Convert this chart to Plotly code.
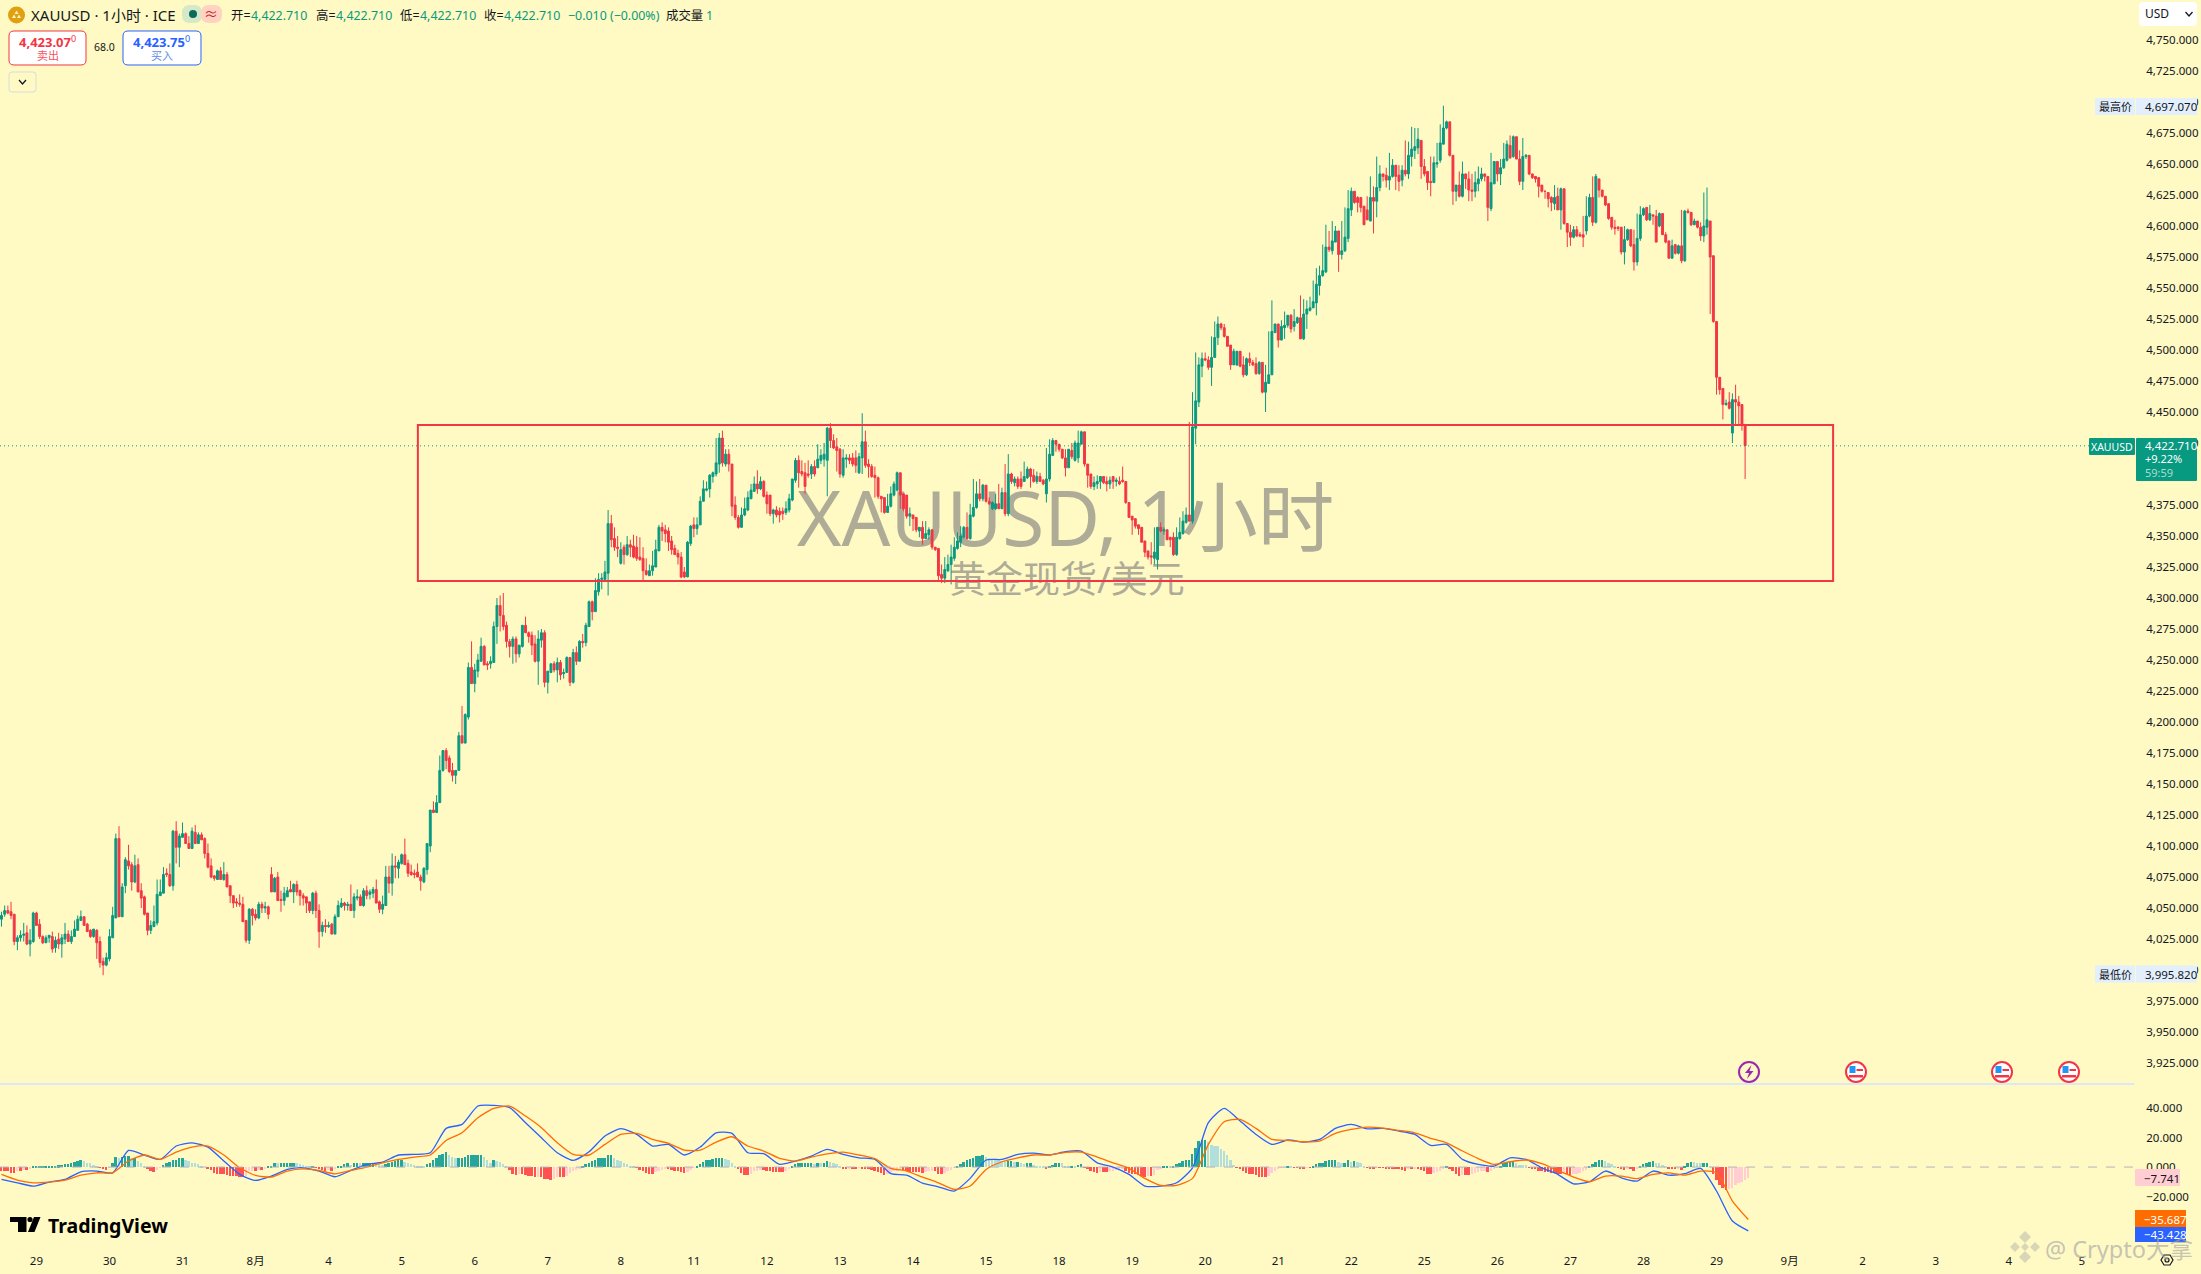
import plotly.graph_objects as go

W, H = 2201, 1274
FONT = "Noto Sans, Noto Sans CJK SC, sans-serif"
BG = "#FFF9C4"
UP = "#089981"
DOWN = "#F23645"
INK = "#131722"

# XAUUSD hourly candles
opens = [
4041,4045,4048,4047,4045,4023,4026,4028,4030,4021,4023,4046,4037,4027,4022,4026,4027,4018,4025,4021,4025,4029,4023,4027,4032,4040,4043,4037,4032,4027,4032,4023,4007,4004,4009,4026,4042,4106,4043,4068,
4088,4085,4071,4085,4064,4059,4046,4032,4035,4038,4060,4062,4078,4077,4068,4112,4099,4107,4110,4102,4098,4111,4102,4109,4106,4094,4084,4076,4073,4080,4073,4077,4068,4060,4055,4054,4053,4040,4024,4049,
4045,4042,4053,4050,4051,4077,4063,4075,4057,4056,4059,4065,4063,4069,4064,4060,4059,4055,4048,4062,4048,4031,4036,4035,4037,4029,4043,4051,4054,4052,4053,4048,4058,4059,4052,4064,4061,4062,4065,4055,
4049,4052,4075,4070,4084,4082,4086,4093,4086,4079,4078,4079,4075,4071,4081,4100,
4129,4127,4135,4161,4177,4171,4161,4157,4161,4189,4183,4204,4244,4231,4241,4249,4261,4247,4247,4248,4277,4294,4286,4278,4265,4261,4267,4255,4261,4278,4272,4270,4263,4249,4266,4272,4232,4240,4247,4242,
4248,4239,4240,4252,4232,4256,4249,4265,4264,4277,4297,4289,4305,4315,4315,
4320,4360,4348,4341,4328,4341,4335,4343,4342,4341,4333,4332,4322,4318,4322,4325,4338,4357,4355,4354,4346,4340,4336,4333,4321,4317,4344,4359,4356,4359,4378,4387,4388,4398,4400,4408,4429,4408,4416,4408,
4375,4365,4357,4367,4371,4380,4386,4392,4388,4394,4383,4383,4368,4371,4370,4370,4369,4371,4379,4395,4411,4402,4401,4400,4400,4406,4405,4411,4412,4411,4437,4427,4422,4420,4399,4412,4413,4413,4413,4401,
4413,4426,4408,4406,4399,4397,4382,4381,4369,4374,4383,4387,4401,4384,4383,4366,4367,4365,4354,4357,4348,4351,4355,4341,4340,4319,4316,4322,4327,4332,4340,4345,4349,4357,4348,4366,4373,4384,4380,4391,
4378,4372,4372,4376,4372,4385,4368,4400,4393,4396,4396,4394,4397,4404,4399,4394,4398,4395,4384,4396,4415,4427,4424,4420,4413,4405,4419,4411,4413,4424,4434,4408,4400,4390,4392,4394,4398,4394,4392,4398,
4394,4394,4395,4394,4377,4366,4364,4359,4357,4346,4338,4334,4332,4331,4357,4354,4355,4349,4349,4335,4348,4352,4361,4367,
4362,4437,4458,4487,4493,4492,4486,4494,4510,4521,4518,4511,4504,4488,4488,4499,4488,4480,4493,4490,4489,4481,4490,4466,4473,4480,4514,4521,4508,4518,4520,4528,4519,4522,4526,4509,4529,4532,4534,4538,
4552,4560,4563,4583,4580,4587,4596,4577,4580,4590,4613,4628,4623,4623,4616,4613,4604,4623,4620,4631,4642,4641,4637,4640,4649,4641,4637,4645,4642,4656,4661,4663,4669,4648,4644,4636,4635,4650,4653,4666,
4679,4684,4657,4628,4633,4624,4642,4638,4629,4628,4634,4638,4642,4640,4614,4634,4652,4642,4647,4653,4665,4656,4672,4654,4636,4656,4657,4642,4640,4639,4633,4628,4627,4623,4618,4624,4613,4630,4602,4595,
4591,4597,4593,4593,4596,4608,4623,4603,4638,4629,4624,4618,4607,4599,4599,4599,4579,4589,4597,4585,4571,4590,4609,4615,4605,4609,4608,4600,4610,4593,4588,4574,4585,4578,4584,4572,4612,4611,4601,4604,
4599,4592,4599,4604,4576,4523,4478,4469,4456,4458,4433,4460,4458,4456,4440,4422.71]
highs = [
4047,4052,4052,4055,4045,4028,4032,4038,4036,4033,4047,4047,4041,4028,4028,4028,4031,4027,4030,4029,4038,4032,4032,4040,4044,4048,4043,4038,4033,4033,4033,4027,4010,4014,4033,4051,4110,4116,4070,4091,
4101,4087,4093,4090,4070,4060,4046,4040,4052,4073,4073,4083,4082,4086,4113,4120,4110,4119,4111,4108,4115,4117,4111,4111,4107,4102,4090,4076,4081,4083,4087,4079,4068,4060,4058,4061,4059,4040,4050,4050,
4049,4055,4055,4055,4052,4083,4075,4079,4064,4067,4067,4072,4070,4072,4065,4062,4059,4055,4063,4064,4053,4039,4041,4039,4038,4045,4056,4058,4055,4055,4069,4062,4065,4061,4066,4068,4065,4067,4073,4056,
4060,4084,4084,4094,4092,4089,4094,4106,4089,4085,4081,4086,4077,4083,4102,4129,
4136,4141,4173,4177,4179,4173,4167,4161,4192,4213,4207,4248,4265,4247,4255,4268,4262,4249,4253,4281,4300,4302,4304,4281,4267,4269,4269,4262,4278,4285,4273,4273,4270,4274,4275,4274,4241,4247,4249,4252,
4250,4243,4253,4252,4259,4261,4266,4271,4280,4298,4298,4316,4320,4320,4330,
4371,4367,4357,4350,4345,4343,4350,4347,4351,4350,4349,4341,4332,4327,4338,4347,4359,4361,4359,4357,4350,4343,4339,4337,4325,4346,4359,4365,4365,4382,4395,4394,4400,4402,4429,4433,4435,4420,4420,4408,
4382,4367,4373,4381,4386,4392,4398,4403,4398,4395,4386,4383,4372,4374,4373,4373,4378,4384,4396,4413,4415,4411,4409,4411,4408,4411,4424,4420,4425,4438,4441,4432,4429,4421,4420,4416,4416,4417,4419,4417,
4449,4435,4412,4408,4406,4398,4382,4381,4384,4390,4394,4402,4401,4384,4372,4373,4366,4358,4357,4362,4362,4357,4342,4340,4322,4327,4333,4335,4343,4349,4353,4358,4358,4369,4376,4396,4394,4396,4392,4386,
4381,4378,4384,4392,4389,4408,4416,4401,4398,4398,4402,4410,4406,4405,4404,4402,4401,4396,4421,4428,4429,4425,4421,4415,4420,4420,4425,4427,4435,4435,4408,4401,4396,4398,4399,4398,4396,4398,4398,4397,
4397,4398,4406,4392,4371,4366,4363,4359,4353,4339,4338,4345,4357,4357,4361,4357,4350,4349,4353,4357,4365,4370,4373,
4442,4466,4498,4494,4498,4498,4495,4511,4523,4527,4522,4521,4504,4499,4501,4499,4495,4495,4494,4498,4492,4494,4491,4474,4488,4515,4540,4521,4519,4524,4531,4528,4529,4533,4527,4544,4541,4540,4543,4556,
4566,4568,4585,4601,4596,4604,4600,4593,4604,4615,4629,4631,4626,4624,4617,4614,4624,4640,4632,4656,4649,4642,4647,4659,4654,4642,4649,4649,4669,4668,4680,4679,4679,4661,4654,4642,4656,4656,4667,4682,
4697,4685,4658,4640,4633,4644,4652,4639,4644,4642,4644,4648,4647,4640,4635,4659,4652,4648,4654,4667,4669,4673,4673,4655,4661,4671,4658,4648,4640,4639,4638,4629,4628,4623,4624,4633,4631,4631,4609,4596,
4601,4600,4600,4595,4608,4624,4626,4640,4642,4638,4628,4618,4612,4604,4605,4600,4591,4600,4598,4585,4597,4610,4616,4615,4611,4617,4609,4613,4611,4601,4595,4585,4589,4585,4585,4613,4613,4614,4609,4606,
4601,4603,4627,4631,4583,4529,4486,4469,4457,4460,4466,4465,4472,4463,4441,4422.71]
lows = [
4035,4043,4045,4041,4020,4016,4023,4023,4020,4011,4022,4036,4025,4021,4022,4022,4014,4014,4017,4010,4021,4023,4021,4027,4032,4040,4036,4031,4026,4026,4009,4002,3995.82,4003,4007,4026,4042,4043,4043,4062,
4081,4064,4070,4063,4050,4044,4028,4029,4035,4036,4060,4062,4075,4067,4064,4086,4083,4107,4102,4098,4098,4102,4102,4105,4090,4082,4074,4072,4073,4073,4072,4067,4054,4050,4051,4051,4039,4022,4021,4036,
4040,4041,4046,4046,4041,4063,4063,4056,4047,4052,4059,4063,4054,4060,4052,4052,4046,4046,4045,4042,4018,4027,4030,4034,4029,4029,4043,4050,4048,4048,4048,4042,4056,4052,4051,4057,4057,4058,4054,4046,
4045,4052,4062,4060,4074,4074,4085,4085,4075,4076,4074,4075,4064,4070,4077,4095,
4127,4127,4135,4160,4162,4159,4152,4150,4161,4183,4183,4202,4231,4224,4236,4249,4246,4242,4243,4248,4263,4273,4274,4260,4252,4247,4248,4252,4260,4272,4264,4254,4248,4230,4260,4228,4223,4240,4240,4232,
4234,4235,4240,4229,4231,4246,4249,4260,4261,4277,4282,4289,4302,4307,4315,
4302,4341,4338,4333,4327,4327,4334,4333,4332,4330,4330,4314,4318,4318,4318,4325,4338,4346,4345,4338,4335,4335,4327,4316,4316,4317,4342,4349,4351,4359,4378,4386,4381,4393,4398,4401,4406,4406,4402,4366,
4363,4356,4357,4366,4370,4380,4386,4384,4387,4381,4368,4366,4360,4365,4361,4363,4367,4369,4378,4393,4389,4398,4384,4397,4396,4398,4405,4408,4406,4382,4421,4420,4402,4397,4397,4405,4408,4406,4401,4400,
4400,4405,4397,4397,4381,4380,4369,4368,4369,4373,4382,4386,4372,4370,4364,4358,4354,4353,4349,4343,4348,4347,4339,4338,4314,4312,4312,4321,4311,4330,4339,4341,4348,4347,4347,4365,4372,4378,4378,4377,
4375,4371,4371,4372,4372,4366,4366,4392,4390,4388,4388,4394,4396,4389,4393,4392,4394,4391,4377,4394,4415,4418,4418,4412,4398,4405,4412,4410,4409,4424,4406,4389,4388,4387,4388,4388,4392,4386,4388,4388,
4390,4391,4393,4376,4365,4351,4356,4351,4345,4333,4331,4327,4327,4323,4353,4351,4347,4341,4334,4334,4347,4351,4360,4362,
4360,4424,4454,4478,4491,4484,4471,4494,4504,4516,4510,4503,4484,4488,4487,4486,4478,4479,4487,4487,4480,4480,4465,4450,4473,4480,4514,4502,4508,4509,4518,4514,4515,4521,4509,4508,4517,4531,4534,4528,
4544,4559,4562,4579,4577,4587,4563,4573,4579,4587,4608,4618,4611,4611,4601,4605,4604,4594,4607,4628,4636,4631,4629,4639,4629,4628,4632,4640,4638,4648,4654,4658,4638,4640,4629,4624,4635,4647,4651,4666,
4678,4656,4617,4620,4623,4623,4630,4620,4620,4623,4628,4636,4636,4604,4612,4634,4636,4633,4646,4652,4654,4655,4654,4633,4629,4654,4641,4638,4635,4623,4627,4622,4615,4612,4613,4613,4597,4601,4583,4584,
4590,4591,4591,4583,4593,4607,4600,4602,4623,4623,4616,4605,4597,4593,4596,4577,4569,4588,4583,4564,4568,4588,4608,4604,4604,4601,4587,4599,4593,4586,4574,4574,4577,4577,4570,4571,4610,4600,4601,4598,
4588,4587,4593,4529,4522,4464,4464,4444,4455,4452,4425,4440,4440,4435,4396,4422.71]
closes = [
4044,4048,4046,4044,4023,4026,4028,4029,4021,4024,4046,4036,4027,4022,4026,4028,4017,4024,4021,4026,4029,4023,4027,4033,4041,4043,4036,4031,4027,4033,4022,4006,4004,4010,4027,4044,4106,4043,4067,4089,
4084,4071,4084,4063,4058,4045,4032,4036,4039,4061,4063,4077,4077,4068,4112,4099,4108,4110,4102,4098,4112,4102,4109,4105,4094,4083,4075,4074,4080,4073,4077,4067,4060,4054,4054,4053,4039,4024,4049,4044,
4042,4053,4050,4051,4045,4063,4074,4056,4056,4062,4064,4063,4069,4063,4060,4058,4054,4048,4062,4048,4031,4036,4035,4036,4029,4043,4052,4054,4052,4053,4048,4059,4059,4052,4064,4060,4063,4065,4054,4049,
4053,4075,4070,4084,4083,4087,4093,4085,4078,4077,4077,4075,4072,4082,4102,4129,
4127,4135,4161,4177,4169,4160,4157,4161,4189,4183,4206,4244,4231,4242,4250,4261,4246,4246,4249,4277,4294,4286,4277,4265,4261,4267,4255,4262,4278,4272,4269,4262,4249,4267,4272,4232,4241,4247,4242,4248,
4238,4240,4252,4232,4256,4249,4265,4264,4278,4297,4289,4306,4315,4316,4321,
4360,4347,4341,4340,4339,4335,4343,4341,4333,4332,4331,4322,4319,4322,4326,4339,4357,4354,4352,4345,4339,4335,4333,4317,4317,4345,4358,4356,4359,4378,4388,4388,4399,4401,4409,4429,4409,4416,4408,4374,
4365,4357,4367,4372,4381,4387,4392,4388,4394,4382,4376,4368,4371,4367,4367,4368,4372,4380,4396,4411,4401,4400,4390,4399,4406,4400,4412,4415,4416,4437,4427,4421,4419,4400,4413,4413,4411,4408,4407,4414,
4426,4407,4406,4398,4397,4382,4380,4369,4374,4384,4392,4401,4383,4372,4366,4368,4364,4355,4357,4348,4352,4355,4341,4339,4318,4316,4323,4327,4333,4341,4346,4350,4357,4348,4367,4373,4384,4380,4391,4378,
4376,4377,4376,4372,4385,4368,4400,4394,4396,4390,4390,4398,4404,4398,4394,4398,4394,4392,4396,4416,4427,4424,4420,4413,4405,4420,4414,4425,4425,4434,4408,4399,4390,4393,4394,4398,4393,4392,4395,4394,
4395,4392,4394,4377,4365,4363,4358,4356,4345,4337,4333,4333,4337,4357,4354,4355,4347,4347,4335,4349,4353,4362,4367,4362,
4438,4459,4488,4493,4492,4486,4494,4510,4521,4518,4511,4503,4488,4499,4499,4487,4480,4493,4490,4488,4481,4490,4466,4474,4480,4515,4521,4508,4519,4520,4528,4517,4523,4526,4509,4529,4533,4534,4539,4553,
4560,4564,4583,4581,4588,4596,4577,4580,4591,4614,4628,4619,4619,4615,4601,4605,4623,4620,4631,4642,4640,4637,4640,4649,4640,4636,4645,4642,4657,4662,4664,4670,4648,4642,4635,4635,4651,4651,4667,4679,
4684,4657,4628,4633,4624,4642,4638,4629,4628,4635,4638,4642,4640,4615,4635,4652,4642,4647,4654,4666,4655,4672,4654,4636,4656,4657,4642,4639,4638,4632,4628,4628,4622,4619,4623,4613,4630,4602,4595,4591,
4597,4592,4592,4591,4608,4623,4603,4640,4629,4624,4617,4606,4599,4598,4598,4579,4589,4597,4584,4571,4590,4609,4614,4605,4610,4608,4587,4610,4593,4587,4574,4584,4578,4584,4572,4612,4611,4601,4604,4599,
4592,4600,4605,4575,4523,4478,4468,4456,4457,4453,4460,4458,4455,4439,4423,4422.71]

# MACD lines, one reading every 5 bars
macd_fast = [
-8.4,-10.7,-13,-10.2,-8.4,-3.2,-2.7,-3.9,11.3,8.2,5.2,14.3,16.5,13.6,4.1,-5,-9.1,-6.1,-1.6,-0.5,-2.7,-6.6,-2.3,1.8,3.4,8.2,8.6,9.7,26.3,29,41.5,41.9,40.4,30.1,19.9,9.7,4.5,
10.4,21.1,26.1,22.2,14.3,15.4,8.2,13.6,23.3,22.9,9.7,9.1,1.8,4.1,7.5,12,8.6,6.3,5.2,-4.5,-5.5,-10.9,-13.4,-16.3,-7.7,4.8,5.2,8.6,9.5,8.2,10.4,10.9,2.9,0,-5,-12.9,-12.9,
-10.7,-0.5,30.2,39.9,31.3,22.2,15.4,18.4,17,18.8,26.3,29,26,26.3,24.5,22.2,14.7,15.4,5.2,1.8,0.7,6.3,5.2,-0.5,-5,-11.4,-10,-2.7,-7.3,-9.5,-2.7,-5.5,-4.5,-0.9,-16.3,-36.7,-43.428]
macd_signal = [
-5,-8.9,-10.7,-10.2,-8.9,-5.5,-3.9,-3.9,4.1,8.2,5.2,10.2,13.6,14.3,8.2,-0.5,-5.7,-6.8,-2.7,-1.2,-2.3,-4.6,-2.3,0,2.9,5.2,6.8,8.2,18.1,23.3,33.5,39.9,41.5,34.7,26.8,16.5,8.6,
8.2,15.4,22.2,22.9,18.8,16.1,11.5,11.5,17,20.6,14.3,10.9,5.9,4.1,6.8,9,10.2,8.2,5.7,-0.9,-2.7,-6.8,-10.7,-15.2,-12.9,-1.6,3.6,6.3,8.2,8.2,10,10.2,6.8,2.9,-0.9,-7.7,-12.5,
-12.5,-7.7,15.4,30.8,32.4,26.3,18.8,18.1,17.2,17.7,22.9,25.6,27.2,26.5,24.9,23.3,19.5,16.5,10.9,5.7,1.8,3.6,4.8,2.3,-2.3,-6.8,-10,-6.1,-6.1,-7.9,-5,-3.9,-5.5,-2.7,-3.9,-23.1,-35.687]
macd_step = 5

# MACD histogram, one reading per bar
macd_hist = [
-3,-3,-3,-4,-4,-3,-3,-2,-2,-1,0.3,0.5,0.8,0.8,0.8,0.8,1,1,1.2,1.5,1.8,2,3,3.5,4.2,4.5,4,3,2.5,1.5,0.5,-0.5,-1.5,-2,-0.5,3,7,6,7,7.5,
7.5,6,6,4,2.5,0.5,-1,-3,-3.5,-2,-0.5,1.5,3,3.5,4.5,5,6,6,4.5,4,3,2.5,2,1,0,-1,-2,-4,-5,-5,-5,-5.5,-6,-6,-6,-6.5,-7,-6,-3,-2.5,
-2.5,-2,-2,-1.5,0.5,1,3,2.5,2.5,3,3,3,3,2.5,2,1.5,1,0.5,1,-0.5,-1.5,-2,-2.5,-2,-2.5,-1,0.5,1,2,2.5,1.5,2.5,3,2.5,3,3,3,3,2.5,2,
1.5,2,3,3.5,4,4.5,4.5,3.5,3,2,1.5,1,0.5,0.3,2,3,4.5,6,8,9,10,8,7,6.5,6.5,6.5,7,8,8.5,8.5,8.5,8.5,7,5,3,4.5,4,3.5,2,0.3,
-2,-5,-5.5,-5,-5,-5.5,-6,-6,-7,-6.5,-7,-8,-8,-8.5,-8,-7,-7,-7,-6,-4,-3,-2,-1,0.3,2,3,4,5,6,6.5,6.5,8,8,6.5,5,4,3,2,1,0.5,
-0.5,-2,-3,-4,-4.5,-5,-3.5,-3,-2,-1,-1,-2,-3,-3,-3.5,-4,-3.5,-2,-0.5,0.5,2,3.5,4.5,5,5.5,6,6,6.5,5.5,4.5,3,0.5,-1,-4,-5.5,-5.5,-4.5,-3,-2.5,-2,
-2,-3,-3,-3.5,-3.5,-3.5,
-3.5,-3,-1.5,0.5,2,2.5,2.5,2.5,2.5,2.5,2,3,2.5,2.5,4,3.5,3,2,0.3,-1,-1.5,-1,-1,-1.5,-0.5,-0.8,-0.8,-1.5,-2,-3,-3.5,-4,-5.5,-5,-4.5,-3,-2.5,-2,-2,-2.5,
-3.5,-3.5,-3.5,-3.5,-4,-3.5,-3,-2.5,-3,-4.5,-5,-4,-3,-2,-0.5,1,2,3.5,4.5,5.5,6,7.5,7.5,8,7,6,5.5,5,4.5,4,3.5,4,4,3.5,3.5,3,2,2.5,2.5,1.5,
1,0.8,0.3,-0.8,0.3,1.5,2.5,3,2.5,1,0.8,1,0.5,1.5,2,-0.5,-1.5,-3,-3.5,-4,-3.5,-3.5,-3.5,-3,-2.5,-2,-1.5,-1,-3,-4,-4.5,-5,-5.5,-6,-6.5,-6,-6,-5.5,-2,-1,
0.3,1,0.5,1,2,3,4,4.5,4.5,9,13,18,18.5,18.5,17,15,14.5,14,12.5,11,8,4.5,1.5,-0.5,-1.5,-3,-4,-4.5,-4.5,-5.5,-6.5,
-7,-7,-6,-4,-2.5,-1.5,-0.5,-0.3,1,0.5,-0.5,-0.5,-1,-1,-0.5,-0.5,0.5,2,2.5,3,4,4.5,4.5,5,3.5,2.5,2.5,4.5,3.5,4,3.5,2.5,1,-0.5,-1,-1,-0.5,-0.5,-0.5,-0.8,
-1,-1,-1,-1.5,-2,-2.5,-1,-1,-0.8,-0.8,-2,-3,-4.5,-5,-4,-3.5,-3,-1.5,1,-1,-3,-5,-6,-5.5,-5.5,-5.5,-4.5,-4,-3.5,-3,-2.5,-3.5,-2.5,-1.5,-0.5,0.5,3,3,3.5,3.5,
3,1.5,1.3,1.2,-0.3,-1,-1.5,-2.5,-3,-3.5,-3.5,-4,-4,-4.5,-5,-4.5,-5,-5.5,-5,-4.5,-4,-3,-2,1,2,3.5,4.5,4.5,4,3,2,1,-0.5,-1.5,-2,-1,-1.5,-2.5,-1.5,0.8,
2,3,3.5,4,3,2.5,1.5,1,-1,-1.5,-1.5,-1,-2,1,3,3.5,3.2,3,2.5,2.5,2.5,1,
-5,-9,-12,-14,-15.4,-15,-14,-12.5,-11,-10,-8.8,-7.741]

# 4,400 sits wholly under the last price tag in the original
price_ticks = [p for p in range(3925, 4751, 25) if p != 4400]
macd_ticks = [-20, 0, 20, 40]
day_labels = ["29","30","31","8月","4","5","6","7","8","11","12","13","14","15","18","19","20","21","22","25","26","27","28","29","9月","2","3","4","5"]
bars_per_day = 23
first_day_bar = 11
day_bars = [first_day_bar + bars_per_day * n for n in range(len(day_labels))]

last_price = 4422.71
box_bars = [131.1, 576.7]
box_prices = [4313.7, 4439.5]

bar_px = 3.176
left_px = 1.5
axis_px = 2134


def fx(x):
    return x / W


def fy(y):
    return 1 - y / H


shapes = []
notes = []


def add_path(points, fill=None, line=None, lw=1, closed=True):
    d = "M" + " L".join(f"{fx(x):.5f},{fy(y):.5f}" for x, y in points)
    if closed:
        d += " Z"
    shapes.append(dict(type="path", xref="paper", yref="paper", path=d,
                       fillcolor=fill or "rgba(0,0,0,0)",
                       line=dict(color=line or "rgba(0,0,0,0)", width=lw if line else 0)))


def add_rect(x0, y0, x1, y1, fill, line=None, lw=1, r=0):
    if r:
        a0, a1, b0, b1 = fx(x0), fx(x1), fy(y0), fy(y1)
        rx, ry = r / W, r / H
        d = (f"M{a0+rx:.5f},{b0:.5f} L{a1-rx:.5f},{b0:.5f} Q{a1:.5f},{b0:.5f} {a1:.5f},{b0-ry:.5f} "
             f"L{a1:.5f},{b1+ry:.5f} Q{a1:.5f},{b1:.5f} {a1-rx:.5f},{b1:.5f} "
             f"L{a0+rx:.5f},{b1:.5f} Q{a0:.5f},{b1:.5f} {a0:.5f},{b1+ry:.5f} "
             f"L{a0:.5f},{b0-ry:.5f} Q{a0:.5f},{b0:.5f} {a0+rx:.5f},{b0:.5f} Z")
        shapes.append(dict(type="path", xref="paper", yref="paper", path=d, fillcolor=fill,
                           line=dict(color=line or "rgba(0,0,0,0)", width=lw if line else 0)))
    else:
        shapes.append(dict(type="rect", xref="paper", yref="paper", x0=fx(x0), x1=fx(x1), y0=fy(y0), y1=fy(y1),
                           fillcolor=fill, line=dict(color=line or "rgba(0,0,0,0)", width=lw if line else 0)))


def add_circle(cx, cy, r, fill, line=None, lw=1):
    shapes.append(dict(type="circle", xref="paper", yref="paper", x0=fx(cx - r), x1=fx(cx + r),
                       y0=fy(cy - r), y1=fy(cy + r), fillcolor=fill,
                       line=dict(color=line or "rgba(0,0,0,0)", width=lw if line else 0)))


def add_text(x, y, s, size=12, color=INK, anchor="left"):
    notes.append(dict(xref="paper", yref="paper", x=fx(x), y=fy(y), text=s, showarrow=False,
                      xanchor=anchor, yanchor="middle", borderpad=0,
                      font=dict(family=FONT, size=size, color=color)))


def add_flag(cx, cy):
    add_circle(cx, cy, 10, "#FFFFFF", "#F23645", 2)
    add_rect(cx - 6.5, cy - 6, cx - 0.5, cy + 1, "#2196F3")
    add_rect(cx + 0.5, cy - 3, cx + 7, cy - 1, "#F23645")
    add_rect(cx - 7, cy + 3, cx + 7, cy + 5.5, "#F23645")


def add_chevron(cx, cy):
    add_path([(cx - 3.5, cy - 2), (cx, cy + 2), (cx + 3.5, cy - 2)], line=INK, lw=1.3, closed=False)


# watermark, under the candles
for (x0, y0, x1, y1, label, size) in [(797, 493, 1334, 550, "XAUUSD, 1小时", 76.5),
                                      (949, 565, 1185, 597, "黄金现货/美元", 37)]:
    shapes.append(dict(type="rect", xref="paper", yref="paper", layer="below",
                       x0=fx(x0), x1=fx(x1), y0=fy(y0), y1=fy(y1),
                       fillcolor="rgba(0,0,0,0)", line=dict(width=0),
                       label=dict(text=label, textposition="middle center",
                                  font=dict(family=FONT, size=size, color="rgba(120,120,120,0.6)"))))

# last price line and the red range box
shapes.append(dict(type="line", xref="paper", yref="y", x0=0, x1=fx(2089), y0=last_price, y1=last_price,
                   line=dict(color=UP, width=1, dash="1px,3px")))
shapes.append(dict(type="rect", xref="x", yref="y", x0=box_bars[0], x1=box_bars[1], y0=box_prices[0], y1=box_prices[1],
                   fillcolor="rgba(0,0,0,0)", line=dict(color=DOWN, width=2)))
# pane separator and macd zero
shapes.append(dict(type="line", xref="paper", yref="paper", x0=0, x1=fx(axis_px), y0=fy(1084), y1=fy(1084),
                   line=dict(color="#DCE6F5", width=2)))
shapes.append(dict(type="line", xref="paper", yref="y2", x0=0, x1=fx(axis_px), y0=0, y1=0,
                   line=dict(color="#B2B5BE", width=1, dash="dash")))

# top left legend
add_circle(16.5, 15, 8.5, "#E0A010")
add_path([(12, 18), (14, 14.5), (16, 18)], fill="#FFF3C0")
add_path([(17, 18), (19, 14.5), (21, 18)], fill="#FFF3C0")
add_path([(14.5, 14), (16.5, 10.5), (18.5, 14)], fill="#FFF3C0")
add_text(30, 15, "XAUUSD · 1小时 · ICE", 15)
add_rect(182, 5, 202, 23, "#D5E8C8", r=8)
add_rect(201, 5, 222, 23, "#FFD2C2", r=8)
add_circle(193, 14, 4, "#0B6B5A")
add_text(211, 14, "≈", 14, "#C62828", "center")
for x_lab, lab, x_val in [(230, "开=", 250), (315, "高=", 335), (399, "低=", 419), (483, "收=", 503)]:
    add_text(x_lab, 15, lab, 12.4)
    add_text(x_val, 15, "4,422.710", 12.4, UP)
add_text(567, 15, "−0.010 (−0.00%)", 12.4, UP)
add_text(665, 15, "成交量", 12.4)
add_text(705, 15, "1", 12.4, UP)

add_rect(9, 31, 86, 65, "#FFFFFF", DOWN, 1, r=5)
add_text(47.5, 41, "<b>4,423.07</b><sup>0</sup>", 13, DOWN, "center")
add_text(47.5, 55, "卖出", 11, "#F7525F", "center")
add_text(104, 47, "68.0", 10.5, INK, "center")
add_rect(123, 31, 201, 65, "#FFFFFF", "#2962FF", 1, r=5)
add_text(162, 41, "<b>4,423.75</b><sup>0</sup>", 13, "#2962FF", "center")
add_text(162, 55, "买入", 11, "#5B8DEF", "center")
add_rect(9, 72, 36, 92, BG, "#D8DBE0", 1, r=3)
add_chevron(22.5, 82)

# price axis tags
add_rect(2139, 2, 2197, 26, "#FFFFFF", r=4)
add_text(2144, 14, "USD", 12)
add_chevron(2189, 14)
for y_tag, lab, val in [(106.5, "最高价", "4,697.070"), (974, "最低价", "3,995.820")]:
    add_rect(2095, y_tag - 8.5, 2135, y_tag + 8.5, "#E3EFFD")
    add_rect(2136, y_tag - 8.5, 2197, y_tag + 8.5, "#E3EFFD")
    add_text(2115, y_tag, lab, 11, INK, "center")
    add_text(2144, y_tag, val, 11.5)
add_rect(2089, 438, 2135, 455, UP, r=1)
add_text(2112, 446.5, "XAUUSD", 10.5, "#FFFFFF", "center")
add_rect(2136, 438, 2197, 481, UP, r=1)
add_text(2144, 446, "4,422.710", 11.5, "#FFFFFF")
add_text(2144, 459, "+9.22%", 11, "#FFFFFF")
add_text(2144, 472, "59:59", 11, "#A8DCCF")

# macd axis tags
add_rect(2135, 1169, 2180, 1186, "#FFCDD2", r=1)
add_text(2143, 1178, "−7.741", 11.5)
add_rect(2135, 1210, 2186, 1227, "#FF6D00")
add_text(2143, 1219, "−35.687", 11.5, "#FFFFFF")
add_rect(2135, 1227, 2186, 1242, "#2962FF")
add_text(2143, 1234.5, "−43.428", 11.5, "#FFFFFF")

# events row
add_circle(1749, 1072, 10, BG, "#9C27B0", 2)
add_path([(1751.5, 1065), (1745, 1073), (1749, 1073), (1747, 1079), (1753.5, 1071), (1749.5, 1071)], fill="#9C27B0")
for cx in [1856, 2002, 2069]:
    add_flag(cx, 1072)

# TradingView logo
add_path([(10, 1217), (26.5, 1217), (26.5, 1232), (18, 1232), (18, 1222), (10, 1222)], fill="#000000")
add_circle(30, 1219.5, 2.6, "#000000")
add_path([(34.5, 1232), (28, 1232), (34, 1217), (40.5, 1217)], fill="#000000")
add_text(47, 1225, "<b>TradingView</b>", 19.5, "#000000")

# settings hexagon
add_path([(2161, 1260), (2164, 1255), (2170, 1255), (2173, 1260), (2170, 1265), (2164, 1265)], line=INK, lw=1.2)
add_circle(2167, 1260, 2, BG, INK, 1.2)

# site mark, bottom right
mark = "rgba(165,165,165,0.65)"
diamond = "rgba(165,165,165,0.42)"
for cx, cy, r in [(2025, 1237, 6), (2025, 1257, 6), (2015, 1247, 5), (2035, 1247, 5), (2025, 1247, 4)]:
    add_path([(cx - r, cy), (cx, cy - r), (cx + r, cy), (cx, cy + r)], fill=diamond)
add_text(2044, 1249, "@ Crypto大拿", 23.5, mark)

bars = list(range(len(closes)))
hist_bars = list(range(len(macd_hist)))
line_bars = [macd_step * n for n in range(len(macd_fast))]

hist_colors = []
for n, v in enumerate(macd_hist):
    prev = macd_hist[n - 1] if n else v
    if v >= 0:
        hist_colors.append("#26A69A" if v >= prev else "#B2DFDB")
    else:
        hist_colors.append("#FF5252" if v <= prev else "#FFCDD2")

candles = go.Candlestick(x=bars, open=opens, high=highs, low=lows, close=closes,
                         xaxis="x", yaxis="y", name="XAUUSD", showlegend=False,
                         increasing=dict(line=dict(color=UP, width=1), fillcolor=UP),
                         decreasing=dict(line=dict(color=DOWN, width=1), fillcolor=DOWN),
                         whiskerwidth=0)
hist = go.Bar(x=hist_bars, y=macd_hist, xaxis="x", yaxis="y2", width=0.62, showlegend=False,
              marker=dict(color=hist_colors, line=dict(width=0)))
fast = go.Scatter(x=line_bars, y=macd_fast, mode="lines", xaxis="x", yaxis="y2", showlegend=False,
                  line=dict(color="#2962FF", width=1.3, shape="spline", smoothing=0.6))
signal = go.Scatter(x=line_bars, y=macd_signal, mode="lines", xaxis="x", yaxis="y2", showlegend=False,
                    line=dict(color="#FF6D00", width=1.3, shape="spline", smoothing=0.6))

layout = go.Layout(
    width=W, height=H, margin=dict(l=0, r=0, t=0, b=0),
    paper_bgcolor=BG, plot_bgcolor=BG, showlegend=False, bargap=0, boxgap=0.15,
    font=dict(family=FONT, size=12, color=INK),
    xaxis=dict(domain=[0, axis_px / W], anchor="y2",
               range=[-left_px / bar_px, (axis_px - left_px) / bar_px],
               tickmode="array", tickvals=day_bars, ticktext=day_labels,
               showgrid=False, zeroline=False, showline=False, ticks="outside", ticklen=5, tickcolor=BG,
               rangeslider=dict(visible=False), tickfont=dict(size=11.5)),
    yaxis=dict(domain=[fy(1084), 1], side="right", anchor="x",
               range=[3908.1, 4782.25], tickmode="array", tickvals=price_ticks,
               tickformat=",.3f", showgrid=False, zeroline=False, showline=False,
               ticks="outside", ticklen=9, tickcolor=BG, tickfont=dict(size=11.5)),
    yaxis2=dict(domain=[fy(1245), fy(1085)], side="right", anchor="x",
                range=[-53.0, 55.8], tickmode="array", tickvals=macd_ticks,
                tickformat=",.3f", showgrid=False, zeroline=False, showline=False,
                ticks="outside", ticklen=9, tickcolor=BG, tickfont=dict(size=11.5)),
    shapes=shapes, annotations=notes,
)

fig = go.Figure(data=[candles, hist, fast, signal], layout=layout)
fig.write_html("out.html", config=dict(displayModeBar=False),
               post_script="document.body.style.margin='0';document.body.style.overflow='hidden';")
